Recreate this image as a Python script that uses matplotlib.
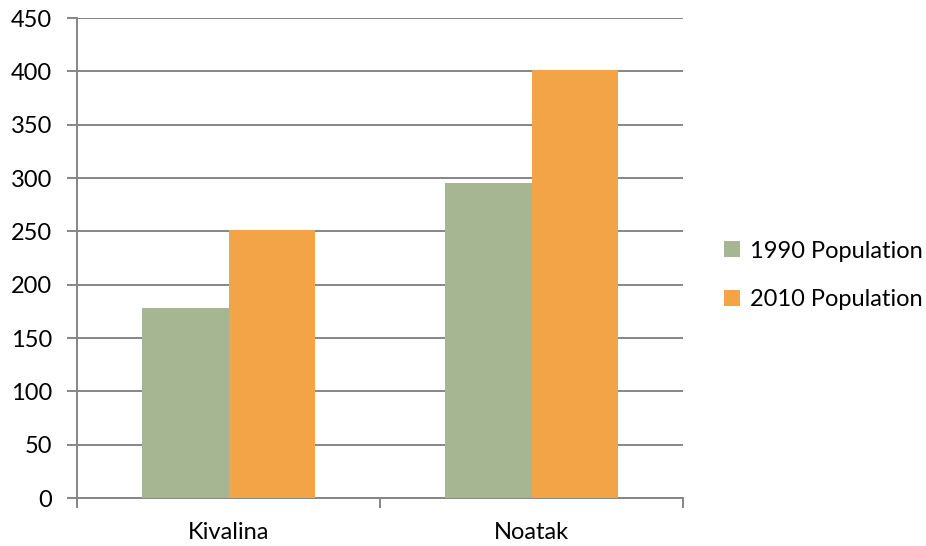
import matplotlib.pyplot as plt
import numpy as np

plt.rcParams['font.family'] = ['Lato', 'DejaVu Sans']

towns = ['Kivalina', 'Noatak']
pop_1990 = [178, 295]
pop_2010 = [251, 401]
series = ['1990 Population', '2010 Population']

fig = plt.figure(figsize=(9.26, 5.46), dpi=100)
ax = fig.add_axes([0.0832, 0.0879, 0.6544, 0.8791])

x = np.arange(len(towns))
w = 0.284
ax.bar(x - w / 2, pop_1990, w, color='#a6b592', label=series[0], zorder=3)
ax.bar(x + w / 2, pop_2010, w, color='#f2a447', label=series[1], zorder=3)

ax.set_xlim(-0.5, 1.5)
ax.set_ylim(0, 450)
ax.set_yticks(range(0, 451, 50))
ax.yaxis.grid(True, color='#868686', linewidth=1.4, zorder=0)

# categories sit between the x ticks
ax.set_xticks([-0.5, 0.5, 1.5])
ax.set_xticklabels([])
ax.set_xticks(x, minor=True)
ax.set_xticklabels(towns, minor=True)
ax.tick_params(axis='x', which='minor', length=0, pad=17, labelsize=17)
ax.tick_params(axis='x', which='major', length=7, color='#868686', width=1.4)
ax.tick_params(axis='y', length=7, color='#868686', width=1.4, labelsize=17, pad=11)

for side in ['top', 'right']:
    ax.spines[side].set_visible(False)
for side in ['left', 'bottom']:
    ax.spines[side].set_color('#868686')
    ax.spines[side].set_linewidth(1.4)

ax.legend(loc='center left', bbox_to_anchor=(1.068, 0.4635), frameon=False,
          fontsize=17, handlelength=0.65, handleheight=0.65,
          handletextpad=0.45, labelspacing=1.18, borderpad=0, borderaxespad=0)

fig.savefig('out.png', dpi=100)
